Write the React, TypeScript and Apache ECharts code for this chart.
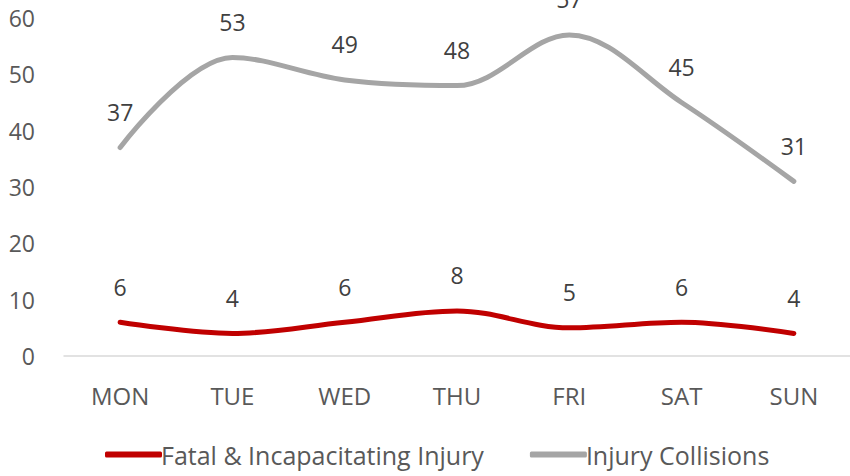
import React, { useEffect, useRef } from "react";
import * as echarts from "echarts";

const days = ["MON", "TUE", "WED", "THU", "FRI", "SAT", "SUN"];
const fatal = [6, 4, 6, 8, 5, 6, 4];
const injury = [37, 53, 49, 48, 57, 45, 31];
const seriesNames = ["Fatal & Incapacitating Injury", "Injury Collisions"];

const FONT = "'Open Sans', 'Noto Sans', sans-serif";

export default function App() {
  const ref = useRef<HTMLDivElement>(null);
  useEffect(() => {
    if (!ref.current) return;
    const chart = echarts.init(ref.current, undefined, { renderer: "svg" });
    const label = {
      show: true,
      position: "top" as const,
      distance: 24,
      fontFamily: FONT,
      fontSize: 23,
      color: "#404040",
    };
    chart.setOption({
      animation: false,
      grid: { left: 64, right: -3, top: 18, bottom: 120, containLabel: false },
      legend: {
        bottom: 4,
        left: 100,
        itemWidth: 57,
        itemHeight: 6,
        itemGap: 46,
        icon: "roundRect",
        textStyle: { fontFamily: FONT, fontSize: 25, color: "#595959", padding: [0, 0, 0, -6] },
        data: seriesNames,
      },
      xAxis: {
        type: "category",
        data: days,
        boundaryGap: true,
        axisLine: { show: true, lineStyle: { color: "#d9d9d9", width: 1.5 } },
        axisTick: { show: false },
        axisLabel: { fontFamily: FONT, fontSize: 24, color: "#595959", margin: 27 },
      },
      yAxis: {
        type: "value",
        min: 0,
        max: 60,
        interval: 10,
        splitLine: { show: false },
        axisLine: { show: false },
        axisTick: { show: false },
        axisLabel: { fontFamily: FONT, fontSize: 23, color: "#595959", margin: 29 },
      },
      series: [
        {
          name: seriesNames[0],
          type: "line",
          data: fatal,
          smooth: 0.35,
          symbol: "circle",
          symbolSize: 0,
          showSymbol: true,
          lineStyle: { color: "#C00000", width: 5, cap: "round" },
          itemStyle: { color: "#C00000" },
          label,
        },
        {
          name: seriesNames[1],
          type: "line",
          data: injury,
          smooth: 0.35,
          symbol: "circle",
          symbolSize: 0,
          showSymbol: true,
          lineStyle: { color: "#A5A5A5", width: 5, cap: "round" },
          itemStyle: { color: "#A5A5A5" },
          label,
        },
      ],
    });
    return () => chart.dispose();
  }, []);
  return <div ref={ref} style={{ width: 850, height: 476, position: "absolute", left: 0, top: 0 }} />;
}
